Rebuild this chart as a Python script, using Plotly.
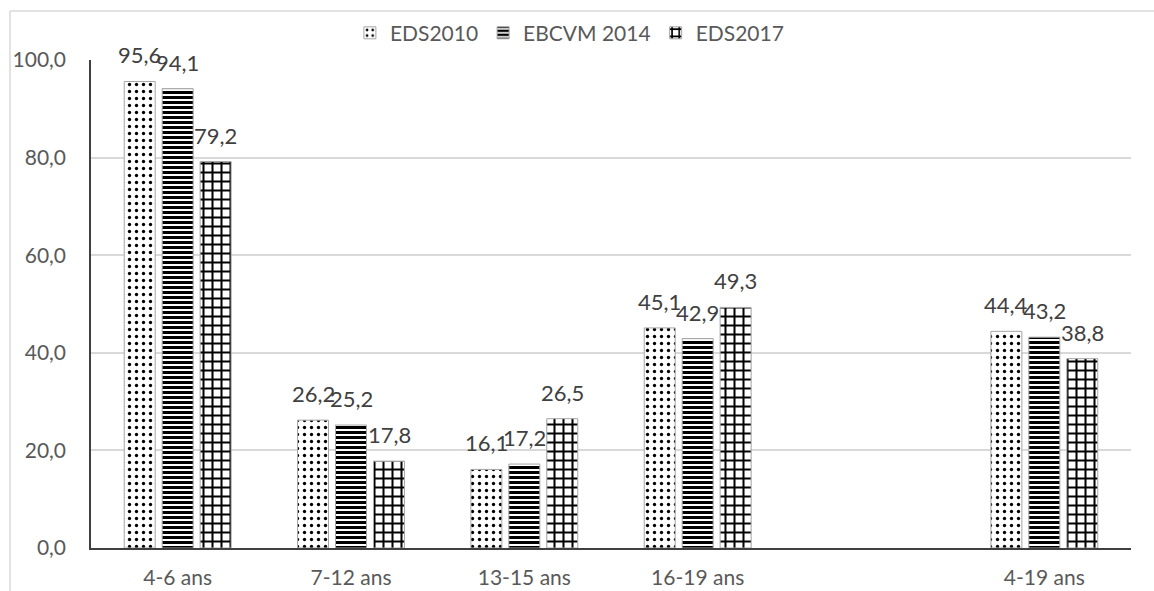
import plotly.graph_objects as go

# Age groups; the blank slot separates the sub-groups from the overall 4-19 group
categories = ["4-6 ans", "7-12 ans", "13-15 ans", "16-19 ans", " ", "4-19 ans"]
eds2010 = [95.6, 26.2, 16.1, 45.1, None, 44.4]
ebcvm2014 = [94.1, 25.2, 17.2, 42.9, None, 43.2]
eds2017 = [79.2, 17.8, 26.5, 49.3, None, 38.8]
y_ticks = [0, 20, 40, 60, 80, 100]

series = [
    ("EDS2010", eds2010, dict(shape=".", size=7, solidity=0.18)),
    ("EBCVM 2014", ebcvm2014, dict(shape="-", size=5, solidity=0.6)),
    ("EDS2017", eds2017, dict(shape="+", size=9, solidity=0.4)),
]

FONT = "Lato"
LABEL_GREY = "#404040"
TICK_GREY = "#595959"

fig = go.Figure()
for name, values, pat in series:
    fig.add_trace(go.Bar(
        name=name,
        x=categories,
        y=values,
        marker=dict(
            color="white",
            line=dict(color="#a6a6a6", width=1),
            pattern=dict(fgcolor="black", bgcolor="white", fgopacity=1,
                         fillmode="replace", **pat),
        ),
    ))

# Value labels above each bar, shifted to the bar's slot within its group
slot_px = 38
annotations = []
for i, (name, values, _) in enumerate(series):
    for cat, v in zip(categories, values):
        if v is None:
            continue
        annotations.append(dict(
            x=cat, y=v, xref="x", yref="y",
            text=f"{v:.1f}".replace(".", ","),
            showarrow=False, yanchor="bottom", xanchor="center",
            xshift=(i - 1) * slot_px, yshift=11,
            font=dict(family=FONT, size=22, color=LABEL_GREY),
        ))

# Light outer frame of the chart area
x0 = (10 - 91) / 1040
y0 = (548 - 11) / 488
shapes = [
    dict(type="line", xref="paper", yref="paper", x0=x0, x1=1.1, y0=y0, y1=y0,
         line=dict(color="#d9d9d9", width=1.5)),
    dict(type="line", xref="paper", yref="paper", x0=x0, x1=x0, y0=y0, y1=-0.2,
         line=dict(color="#d9d9d9", width=1.5)),
]

fig.update_layout(
    width=1154, height=591,
    margin=dict(l=91, r=23, t=60, b=43),
    paper_bgcolor="white", plot_bgcolor="white",
    separators=", ",
    barmode="group", bargap=0.343, bargroupgap=0.184,
    font=dict(family=FONT, size=21, color=TICK_GREY),
    showlegend=True,
    legend=dict(orientation="h", x=0.46, xanchor="center", y=1.055, yanchor="middle",
                font=dict(family=FONT, size=21, color=TICK_GREY),
                itemwidth=30, tracegroupgap=0, bgcolor="rgba(0,0,0,0)"),
    annotations=annotations,
    shapes=shapes,
)
fig.update_xaxes(
    type="category", categoryorder="array", categoryarray=categories,
    showline=True, linecolor="#404040", linewidth=1.5,
    showgrid=False, ticks="", ticklabelstandoff=10, automargin=False,
    tickfont=dict(family=FONT, size=21, color=TICK_GREY),
)
fig.update_yaxes(
    range=[0, 100], tickvals=y_ticks, tickformat=".1f",
    showgrid=True, gridcolor="#d9d9d9", gridwidth=1.5,
    showline=True, linecolor="#404040", linewidth=1.5,
    zeroline=False, ticks="", ticklabelstandoff=19, automargin=False,
    tickfont=dict(family=FONT, size=21, color=TICK_GREY),
)

fig.write_html("out.html")
